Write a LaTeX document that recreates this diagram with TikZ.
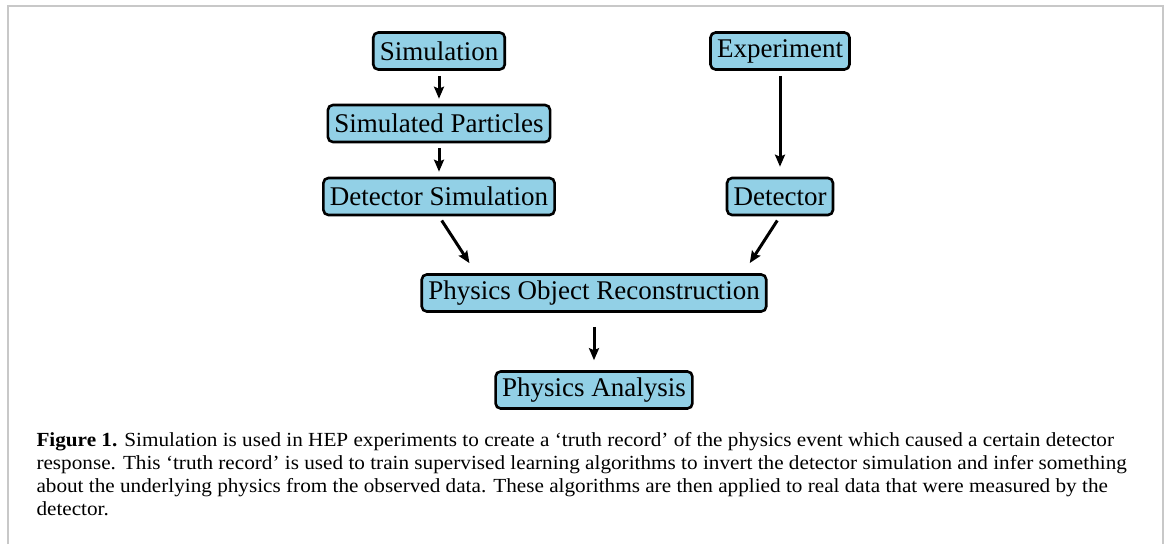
\documentclass[tikz,border=0pt]{standalone}
\usepackage{fontspec}
\setmainfont{Liberation Serif}
\newfontfamily\capfont[FakeStretch=1.06,Ligatures=TeX]{Liberation Serif}
\usetikzlibrary{arrows.meta,calc}
\definecolor{boxblue}{RGB}{146,208,230}
\definecolor{framegray}{RGB}{200,200,200}
\def\gap{5pt}

\begin{document}
\begin{tikzpicture}[x=1pt,y=1pt,line width=3pt,
  -{Stealth[length=12pt,width=10pt,inset=2pt]},shorten <=\gap,shorten >=\gap]
  \tikzstyle{stage}=[draw=black,fill=boxblue,rounded corners=5pt,line width=2.6pt,
    minimum height=37pt,inner xsep=6.5pt,inner ysep=0pt,font=\fontsize{27}{30}\selectfont]
  \useasboundingbox (0,0) rectangle (1170,-544);

  % frame
  \draw[-,framegray,line width=2pt,shorten <=0pt,shorten >=0pt]
    (7.5,-544) -- (7.5,-5.5) -- (1163,-5.5) -- (1163,-544);

  % simulation chain
  \node[stage] (sim) at (439,-51) {Simulation};
  \node[stage] (simpart) at (439,-123.5) {Simulated Particles};
  \node[stage] (detsim) at (439,-196.5) {Detector Simulation};

  % experiment chain
  \node[stage] (exp) at (780,-51) {Experiment};
  \node[stage] (det) at (780,-196.5) {Detector};

  % common part
  \node[stage] (reco) at (594,-293) {Physics Object Reconstruction};
  \node[stage] (ana) at (594,-390) {Physics Analysis};

  \draw (sim) -- (simpart);
  \draw (simpart) -- (detsim);
  \draw[shorten >=10pt] (exp) -- (det);
  \draw[shorten >=12pt] (detsim.south) -- ($(reco.north west)!0.16!(reco.north east)$);
  \draw[shorten >=12pt] (det.south) -- ($(reco.north west)!0.93!(reco.north east)$);
  \draw[shorten <=14pt,shorten >=10pt] (reco) -- (ana);

  % caption
  \node[-,anchor=north west,align=left,inner sep=0pt,font=\capfont\fontsize{20}{23}\selectfont]
    (caption) at (35,-431) {\textbf{Figure 1.} Simulation is used in HEP experiments to create a `truth record' of the physics event which caused a certain detector\\
    response. This `truth record' is used to train supervised learning algorithms to invert the detector simulation and infer something\\
    about the underlying physics from the observed data. These algorithms are then applied to real data that were measured by the\\
    detector.};
\end{tikzpicture}
\end{document}
